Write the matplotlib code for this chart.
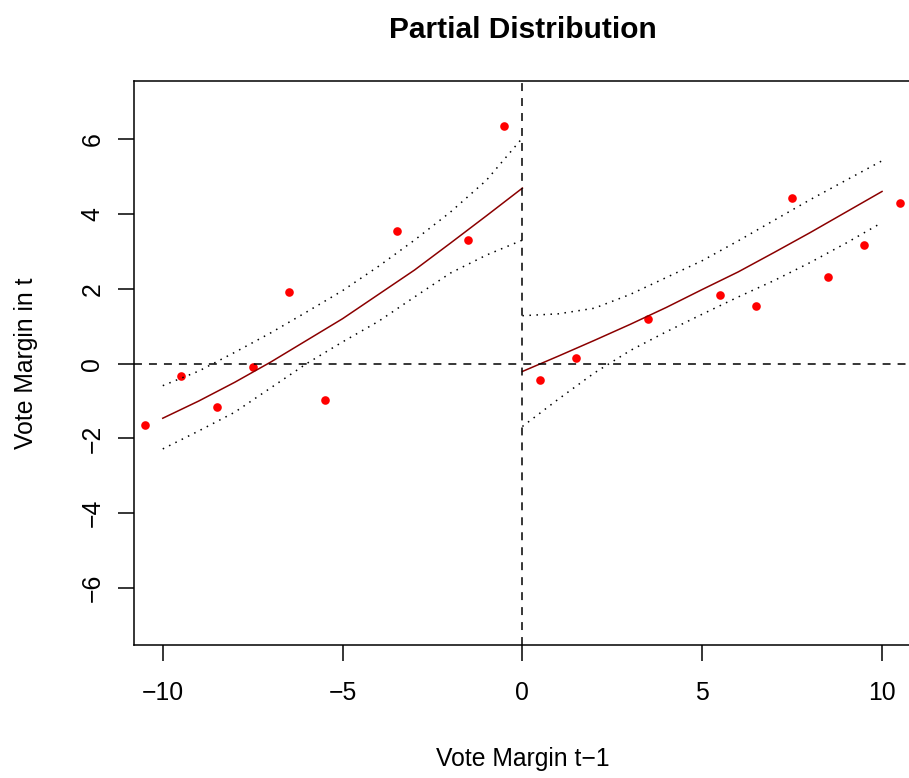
import matplotlib
matplotlib.use("Agg")
import matplotlib.pyplot as plt

plt.rcParams['font.family'] = ['Liberation Sans', 'DejaVu Sans']

# binned means (red points)
left_x = [-10.5, -9.5, -8.5, -7.5, -6.5, -5.5, -3.5, -1.5, -0.5]
left_y = [-1.65, -0.34, -1.16, -0.09, 1.92, -0.96, 3.54, 3.29, 6.34]
right_x = [0.5, 1.5, 3.5, 5.5, 6.5, 7.5, 8.5, 9.5, 10.5]
right_y = [-0.45, 0.15, 1.20, 1.84, 1.54, 4.42, 2.32, 3.17, 4.30]

fit_left_x = [-10, -9, -8, -7, -6, -5, -4, -3, -2, -1, 0]
fit_left = [-1.46, -1.00, -0.50, 0.04, 0.62, 1.20, 1.85, 2.50, 3.22, 3.95, 4.69]
upper_left = [-0.59, -0.20, 0.30, 0.82, 1.38, 1.95, 2.60, 3.30, 4.05, 4.90, 6.03]
lower_left = [-2.28, -1.80, -1.30, -0.65, 0.00, 0.58, 1.13, 1.78, 2.42, 2.90, 3.30]

fit_right_x = [0, 1, 2, 3, 4, 5, 6, 7, 8, 9, 10]
fit_right = [-0.21, 0.20, 0.62, 1.05, 1.50, 1.98, 2.45, 2.97, 3.50, 4.05, 4.60]
upper_right = [1.28, 1.33, 1.48, 1.85, 2.30, 2.75, 3.28, 3.83, 4.38, 4.90, 5.42]
lower_right = [-1.68, -0.95, -0.25, 0.35, 0.85, 1.32, 1.78, 2.22, 2.70, 3.22, 3.77]

x_ticks = [-10, -5, 0, 5, 10]
y_ticks = [-6, -4, -2, 0, 2, 4, 6]

W, H = 909, 778
fig = plt.figure(figsize=(W / 100, H / 100), dpi=100)
# plot box in pixels: left 134, right ~911, top 80.7, bottom 645
ax = fig.add_axes([134 / W, (H - 645) / H, 776.8 / W, 564.3 / H])

lw = 1.1
ax.plot(left_x, left_y, 'o', color='red', markersize=6.2, markeredgewidth=0)
ax.plot(right_x, right_y, 'o', color='red', markersize=6.2, markeredgewidth=0)

for xs, fit, up, lo in [(fit_left_x, fit_left, upper_left, lower_left),
                        (fit_right_x, fit_right, upper_right, lower_right)]:
    ax.plot(xs, fit, color='darkred', lw=lw)
    ax.plot(xs, up, color='black', lw=lw, dashes=(1, 3.6))
    ax.plot(xs, lo, color='black', lw=lw, dashes=(1, 3.6))

ax.axvline(0, color='black', lw=lw, dashes=(5.2, 4.6))
ax.axhline(0, color='black', lw=lw, dashes=(5.2, 4.6))

ax.set_xlim(-10.8, 10.8)
ax.set_ylim(-7.52, 7.56)
ax.set_xticks(x_ticks)
ax.set_yticks(y_ticks)
ax.set_xticklabels([str(v).replace('-', '\u2212') for v in x_ticks])
ax.set_yticklabels([str(v).replace('-', '\u2212') for v in y_ticks],
                   rotation=90, va='center')

ax.tick_params(axis='both', length=11.8, width=lw, labelsize=17.8,
               direction='out')
ax.tick_params(axis='x', pad=14)
ax.tick_params(axis='y', pad=9.5)
for side in ['top', 'right', 'left', 'bottom']:
    ax.spines[side].set_linewidth(lw)

ax.set_xlabel('Vote Margin t\u22121', fontsize=17.8)
ax.xaxis.set_label_coords(0.5, -0.181)
ax.set_ylabel('Vote Margin in t', fontsize=17.8)
ax.yaxis.set_label_coords(-0.1236, 0.5)
ax.set_title('Partial Distribution', fontsize=21.5, fontweight='bold', pad=30.7)

fig.savefig('out.png', dpi=100)
